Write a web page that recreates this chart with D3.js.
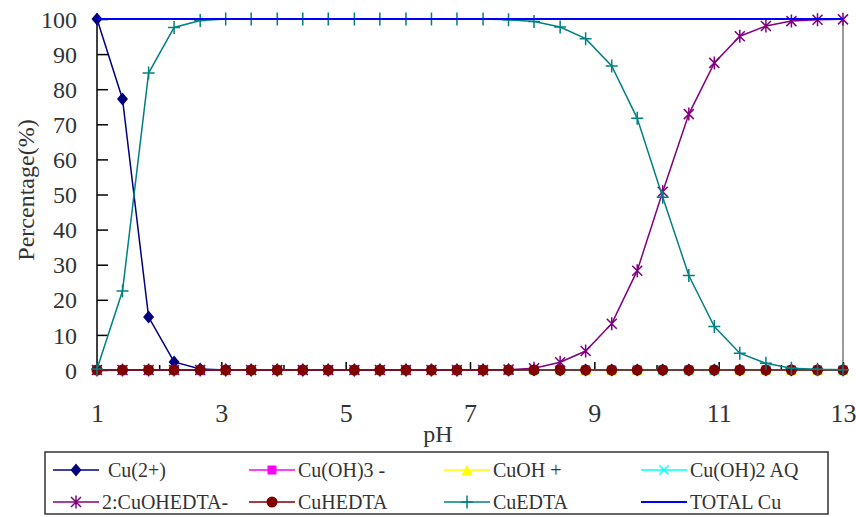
<!DOCTYPE html>
<html>
<head>
<meta charset="utf-8">
<script src="https://cdn.jsdelivr.net/npm/d3@7"></script>
<style>
  body { margin: 0; background: #fff; }
</style>
</head>
<body>
<div class="chart"></div>
<script>
// size of the picture
var width = 856, height = 517;
var serif = "\"Times New Roman\", Times, \"Liberation Serif\", \"DejaVu Serif\", \"Noto Serif\", Tinos, serif";

// pH values of the points
var ph = [1, 1.41, 1.83, 2.24, 2.66, 3.07, 3.48, 3.9, 4.31, 4.72, 5.14, 5.55, 5.97, 6.38, 6.79,
          7.21, 7.62, 8.03, 8.45, 8.86, 9.28, 9.69, 10.1, 10.52, 10.93, 11.34, 11.76, 12.17, 12.59, 13];

// percentage of each species
var cu2 = [100, 77.2, 15.1, 2.3, 0.3, 0, 0, 0, 0, 0, 0, 0, 0, 0, 0,
           0, 0, 0, 0, 0, 0, 0, 0, 0, 0, 0, 0, 0, 0, 0];
var cuOH3 = [0, 0, 0, 0, 0, 0, 0, 0, 0, 0, 0, 0, 0, 0, 0,
             0, 0, 0, 0, 0, 0, 0, 0, 0, 0, 0, 0, 0, 0, 0];
var cuOH = [0, 0, 0, 0, 0, 0, 0, 0, 0, 0, 0, 0, 0, 0, 0,
            0, 0, 0, 0, 0, 0, 0, 0, 0, 0, 0, 0, 0, 0, 0];
var cuOH2aq = [0, 0, 0, 0, 0, 0, 0, 0, 0, 0, 0, 0, 0, 0, 0,
               0, 0, 0, 0, 0, 0, 0, 0, 0, 0, 0, 0, 0, 0, 0];
var cuOHEDTA = [0, 0, 0, 0, 0, 0, 0, 0, 0, 0, 0, 0, 0, 0, 0,
                0, 0.1, 0.5, 2.2, 5.4, 13.2, 28.3, 50.8, 72.9, 87.5, 95.1, 98.0, 99.4, 99.8, 99.9];
var cuHEDTA = [0, 0, 0, 0, 0, 0, 0, 0, 0, 0, 0, 0, 0, 0, 0,
               0, 0, 0, 0, 0, 0, 0, 0, 0, 0, 0, 0, 0, 0, 0];
var cuEDTA = [0.3, 22.5, 84.6, 97.6, 99.6, 100, 100, 100, 100, 100, 100, 100, 100, 100, 100,
              100, 99.8, 99.3, 97.7, 94.4, 86.6, 71.7, 49.2, 26.9, 12.4, 4.8, 1.9, 0.5, 0.2, 0.1];
var totalCu = [100, 100, 100, 100, 100, 100, 100, 100, 100, 100, 100, 100, 100, 100, 100,
               100, 100, 100, 100, 100, 100, 100, 100, 100, 100, 100, 100, 100, 100, 100];

var seriesNames = ["Cu(2+)", "Cu(OH)3 -", "CuOH +", "Cu(OH)2 AQ",
                   "2:CuOHEDTA-", "CuHEDTA", "CuEDTA", "TOTAL Cu"];
var seriesValues = [cu2, cuOH3, cuOH, cuOH2aq, cuOHEDTA, cuHEDTA, cuEDTA, totalCu];

var xTicks = [1, 3, 5, 7, 9, 11, 13];
var xMinorTicks = [2, 4, 6, 8, 10, 12];
var yTicks = [0, 10, 20, 30, 40, 50, 60, 70, 80, 90, 100];

// look of each series: colour and marker
var styles = [
  {color: "#000080", marker: "diamond"},
  {color: "#ff00ff", marker: "square"},
  {color: "#ffff00", marker: "triangle"},
  {color: "#00ffff", marker: "times"},
  {color: "#800080", marker: "asterisk"},
  {color: "#800000", marker: "circle"},
  {color: "#008080", marker: "plus"},
  {color: "#0000ff", marker: "none"}
];

var svg = d3.select(".chart")
  .append("svg")
    .attr("width", width)
    .attr("height", height)
    .style("font-family", serif);

var x = d3.scaleLinear().domain([1, 13]).range([97, 843]);
var y = d3.scaleLinear().domain([0, 100]).range([370, 19]);

// grey border on the right of the plot
svg.append("line")
  .attr("x1", x(13)).attr("x2", x(13))
  .attr("y1", y(100)).attr("y2", y(0))
  .style("stroke", "#9a9a9a")
  .style("stroke-width", 2);

// y axis, ticks point into the plot
var yAxis = svg.append("g")
  .attr("transform", "translate(" + x(1) + ",0)")
  .call(d3.axisLeft(y).tickValues(yTicks).tickSize(-11).tickPadding(20))
  .attr("font-family", null);
yAxis.selectAll("text")
  .style("font-size", "24px").style("font-family", serif).style("fill", "#333")
  .attr("dy", "0.34em");
yAxis.selectAll("line, path").style("stroke", "#000").style("stroke-width", 1.5);
yAxis.select(".domain").attr("d", "M0," + y(100) + "V" + y(0));

// x axis, major and minor ticks
var xAxis = svg.append("g")
  .attr("transform", "translate(0," + y(0) + ")")
  .call(d3.axisBottom(x).tickValues(xTicks).tickSize(-8).tickPadding(34))
  .attr("font-family", null);
xAxis.selectAll("text")
  .style("font-size", "26px").style("font-family", serif).style("fill", "#333");
xAxis.selectAll("line, path").style("stroke", "#000").style("stroke-width", 1.5);
xAxis.select(".domain").attr("d", "M" + x(1) + ",0H" + x(13));

svg.append("g")
  .attr("transform", "translate(0," + y(0) + ")")
  .call(d3.axisBottom(x).tickValues(xMinorTicks).tickSize(-5).tickFormat(""))
  .call(function(g) { g.select(".domain").remove(); })
  .selectAll("line").style("stroke", "#000").style("stroke-width", 1.5);

// axis titles
svg.append("text")
  .attr("x", 438).attr("y", 442)
  .attr("text-anchor", "middle")
  .style("font-size", "24px").style("font-family", serif).style("fill", "#333")
  .text("pH");

svg.append("text")
  .attr("transform", "translate(34,190) rotate(-90)")
  .attr("text-anchor", "middle")
  .style("font-size", "24px").style("font-family", serif).style("fill", "#333")
  .text("Percentage(%)");

// draw one marker at (0,0) inside g
function drawMarker(g, type, color) {
  if (type == "diamond") {
    g.append("path").attr("d", "M0,-6.5L5.5,0L0,6.5L-5.5,0Z").style("fill", color);
  } else if (type == "square") {
    g.append("rect").attr("x", -4.5).attr("y", -4.5).attr("width", 9).attr("height", 9).style("fill", color);
  } else if (type == "triangle") {
    g.append("path").attr("d", "M0,-5L5.5,5L-5.5,5Z").style("fill", color);
  } else if (type == "circle") {
    g.append("circle").attr("r", 5.5).style("fill", color);
  } else if (type == "times") {
    g.append("path").attr("d", "M-4.5,-4.5L4.5,4.5M-4.5,4.5L4.5,-4.5").style("stroke", color).style("stroke-width", 1.5);
  } else if (type == "plus") {
    g.append("path").attr("d", "M-6,0H6M0,-6.5V6.5").style("stroke", color).style("stroke-width", 1.5);
  } else if (type == "asterisk") {
    g.append("path").attr("d", "M-5,-5L5,5M-5,5L5,-5M0,-6.5V6.5").style("stroke", color).style("stroke-width", 1.5);
  }
}

var line = d3.line()
  .x(function(d) { return x(d[0]); })
  .y(function(d) { return y(d[1]); });

// each series: line then markers, in the original order
seriesValues.forEach(function(vals, i) {
  var pts = ph.map(function(p, j) { return [p, vals[j]]; });
  var st = styles[i];
  svg.append("path")
    .datum(pts)
    .attr("d", line)
    .style("fill", "none")
    .style("stroke", st.color)
    .style("stroke-width", i == 7 ? 2 : 1.5);
  if (st.marker != "none") {
    pts.forEach(function(d) {
      var m = svg.append("g").attr("transform", "translate(" + x(d[0]) + "," + y(d[1]) + ")");
      drawMarker(m, st.marker, st.color);
    });
  }
});

// legend box
svg.append("rect")
  .attr("x", 45).attr("y", 452)
  .attr("width", 783).attr("height", 62)
  .style("fill", "#fff")
  .style("stroke", "#333")
  .style("stroke-width", 1.5);

var legendCols = [53, 249, 444, 641];
var legendRows = [470, 502];

seriesNames.forEach(function(name, i) {
  var lx = legendCols[i % 4], ly = legendRows[Math.floor(i / 4)];
  var st = styles[i];
  svg.append("line")
    .attr("x1", lx).attr("x2", lx + 46)
    .attr("y1", ly).attr("y2", ly)
    .style("stroke", st.color)
    .style("stroke-width", i == 7 ? 2 : 1.5);
  var m = svg.append("g").attr("transform", "translate(" + (lx + 23) + "," + ly + ")");
  drawMarker(m, st.marker, st.color);
  svg.append("text")
    .attr("x", lx + (i == 0 ? 55 : 49))
    .attr("y", ly + 7)
    .style("font-size", "20px").style("font-family", serif).style("fill", "#333")
    .text(name);
});
</script>
</body>
</html>
